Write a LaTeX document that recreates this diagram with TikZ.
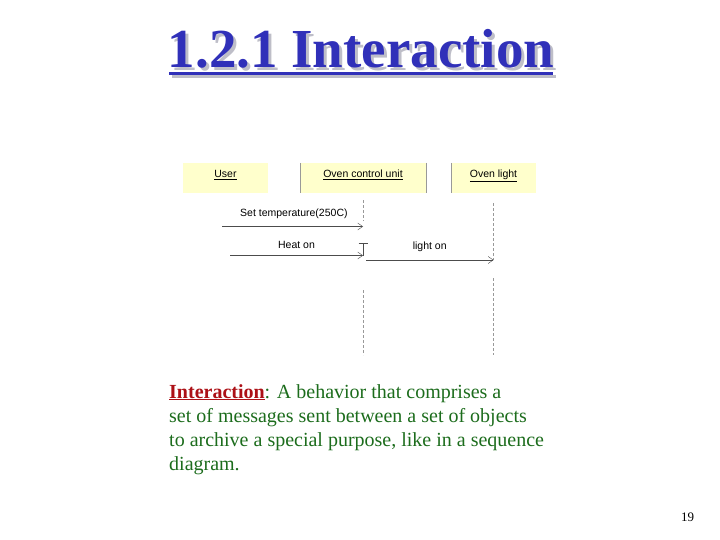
\documentclass[tikz,border=0pt]{standalone}
\usepackage{fontspec}
\setmainfont{Liberation Serif}
\setsansfont{Liberation Sans}
\usetikzlibrary{positioning, arrows.meta}
\usepackage{xcolor}
\definecolor{titleblue}{RGB}{48,48,185}
\definecolor{shadowgray}{RGB}{190,190,200}
\definecolor{boxyellow}{RGB}{255,255,204}
\definecolor{textgreen}{RGB}{28,108,28}
\definecolor{termred}{RGB}{172,16,22}
\newcommand{\titletext}{1.2.1 Interaction}

\begin{document}
\begin{tikzpicture}[x=1pt, y=-1pt,
                header/.style={rectangle, fill=boxyellow, inner sep=0pt, text height=15pt, text depth=15pt, font=\sffamily\fontsize{10.5}{12}\selectfont},
                border/.style={gray!80, thin},
                lifeline/.style={densely dashed, gray!80, thin},
                msg/.style={-{Straight Barb[length=5pt, width=7pt]}, gray!60!black, thin},
                msglabel/.style={font=\sffamily\fontsize{10.5}{12}\selectfont, inner sep=0pt, text=black},
                heading/.style={font=\fontsize{55}{60}\selectfont\bfseries, inner sep=0pt}
            ]
            \useasboundingbox (0,0) rectangle (720,540);

            % Title with shadow
            \draw[shadowgray, line width=3pt] (172,77) -- (556,77);
            \draw[titleblue, line width=3pt] (169,74) -- (553,74);
            \node[heading, anchor=base] (title) at (361,68)
                {\makebox[0pt][l]{\hspace{3pt}\raisebox{-3pt}{\textcolor{shadowgray}{\titletext}}}\textcolor{titleblue}{\titletext}};

            % Objects
            \node[header, minimum width=85pt] (user) at (225.5,178) {\underline{User}};
            \node[header, minimum width=126pt] (ocu) at (363,178) {\underline{Oven control  unit}};
            \node[header, minimum width=84pt] (light) at (493.5,178) {\underline{Oven light}};
            \draw[border] (ocu.north west) -- (ocu.south west);
            \draw[border] (ocu.north east) -- (ocu.south east);
            \draw[border] (light.north west) -- (light.south west);

            % Lifelines
            \draw[lifeline] (ocu.south) ++(0,7) -- ++(0,21);
            \draw[lifeline] (ocu.south) ++(0,97) -- ++(0,65);
            \draw[lifeline] (light.south) ++(0,10) -- ++(0,57);
            \draw[lifeline] (light.south) ++(0,85) -- ++(0,77);

            % Messages
            \coordinate (settemp) at (222,226.5);
            \coordinate (settempend) at (363,226.5);
            \coordinate (heat) at (230,255.5);
            \coordinate (heatend) at (363,255.5);
            \coordinate (act) at (363,243);
            \coordinate (lighton) at (366,260);
            \coordinate (lightonend) at (493.5,260);

            \draw[msg] (settemp) -- node[msglabel, above=8pt, pos=0.51] {Set temperature(250C)} (settempend);
            \draw[msg] (heat) -- node[msglabel, above=7pt, pos=0.5] {Heat on} (heatend);
            \draw[gray!60!black, thin] (act) -- (heatend);
            \draw[gray!60!black, thin] ([xshift=-4.5pt]act) -- ([xshift=4.5pt]act);
            \draw[msg] (lighton) -- node[msglabel, above=8pt, pos=0.5] {light on} (lightonend);

            % Definition
            \node[anchor=north west, align=left, inner sep=0pt, text=textgreen, font=\fontsize{20}{24}\selectfont] (definition) at (169,384)
                {\textcolor{termred}{\bfseries\underline{Interaction}}: A behavior that comprises a\\
                 set of messages sent between a set of objects\\
                 to archive a special purpose, like in a sequence\\
                 diagram.};

            % Page number
            \node[font=\fontsize{13}{15}\selectfont, anchor=base] (pagenum) at (687.5,521) {19};
        \end{tikzpicture}
\end{document}
